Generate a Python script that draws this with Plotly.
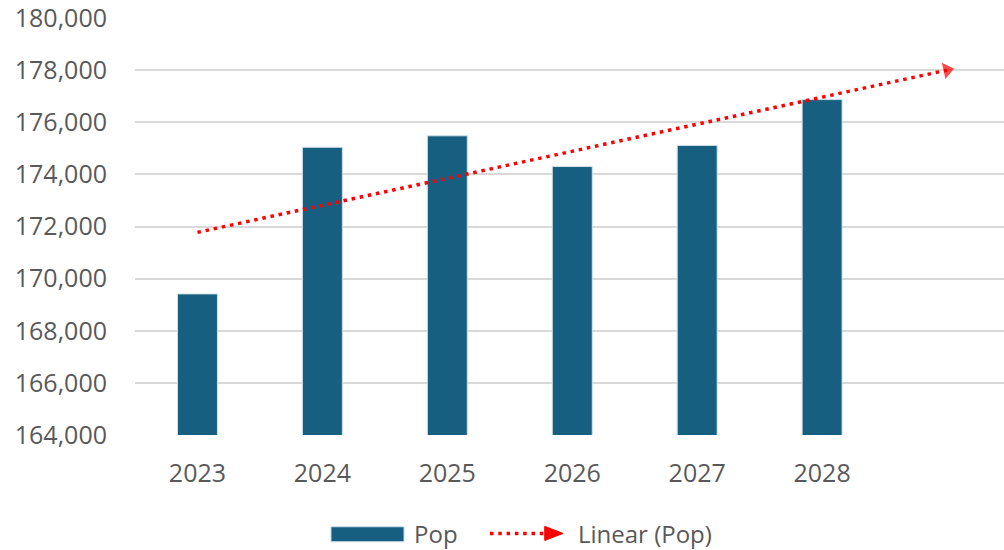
import numpy as np
import plotly.graph_objects as go

# Population by year
years = ["2023", "2024", "2025", "2026", "2027", "2028"]
pop = [169413, 175040, 175480, 174300, 175110, 176870]

series_name = "Pop"
trend_name = "Linear (Pop)"
forecast_periods = 1

bar_color = "#175f80"
trend_color = "#ff0000"
grid_color = "#d9d9d9"
text_color = "#595959"
font_family = "Open Sans, Noto Sans, sans-serif"

idx = np.arange(len(years))
slope, intercept = np.polyfit(idx + 1, pop, 1)
trend_x = np.arange(len(years) + forecast_periods)
trend_y = slope * (trend_x + 1) + intercept

fig = go.Figure()
fig.add_trace(go.Bar(
    x=idx, y=pop, name=series_name, width=0.32,
    marker=dict(color=bar_color, line=dict(color="#cfe0e8", width=1)),
))
fig.add_trace(go.Scatter(
    x=trend_x, y=trend_y, name=trend_name, mode="lines+markers",
    line=dict(color=trend_color, width=3.5, dash="3.5px,4.8px"),
    marker=dict(symbol="triangle-up", angleref="previous",
                size=[0] * (len(trend_x) - 1) + [16], color=trend_color),
    cliponaxis=False,
))

# Legend drawn below the plot: wide bar swatch and dotted arrow swatch
legend_y = -0.236
shapes = [
    dict(type="rect", xref="paper", yref="paper",
         x0=0.2255, x1=0.3096, y0=legend_y + 0.016, y1=legend_y - 0.020,
         fillcolor=bar_color, line=dict(color="#cfe0e8", width=1)),
    dict(type="line", xref="paper", yref="paper",
         x0=0.4085, x1=0.4730, y0=legend_y, y1=legend_y,
         line=dict(color=trend_color, width=3.5, dash="3.5px,4.8px")),
    dict(type="path", xref="paper", yref="paper",
         path=f"M 0.4715 {legend_y + 0.017} L 0.4925 {legend_y} "
              f"L 0.4715 {legend_y - 0.017} Z",
         fillcolor=trend_color, line=dict(color=trend_color, width=1)),
]
annotations = [
    dict(text=series_name, xref="paper", yref="paper", x=0.3185, y=legend_y,
         xanchor="left", yanchor="middle", showarrow=False,
         font=dict(size=24, color=text_color, family=font_family)),
    dict(text=trend_name, xref="paper", yref="paper", x=0.5075, y=legend_y,
         xanchor="left", yanchor="middle", showarrow=False,
         font=dict(size=24, color=text_color, family=font_family)),
]

fig.update_layout(
    width=1004, height=550,
    margin=dict(l=135, r=0, t=18, b=115),
    plot_bgcolor="white", paper_bgcolor="white",
    font=dict(family=font_family, size=25, color=text_color),
    showlegend=False,
    shapes=shapes,
    annotations=annotations,
    xaxis=dict(
        tickmode="array", tickvals=idx, ticktext=years,
        range=[-0.5, len(years) - 0.5 + 0.956],
        showgrid=False, zeroline=False, showline=False, ticks="",
        ticklabelstandoff=21,
    ),
    yaxis=dict(
        range=[164000, 180000], dtick=2000, tickformat=",",
        showgrid=True, gridcolor=grid_color, gridwidth=2,
        zeroline=False, showline=False, ticks="",
        ticklabelstandoff=27, ticklabeloverflow="allow",
    ),
)

fig.write_html("out.html")
